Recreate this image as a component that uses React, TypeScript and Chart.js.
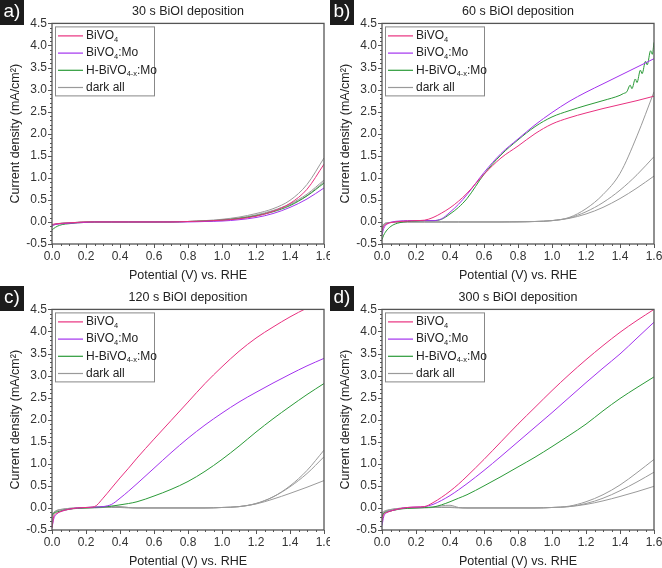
import React, { useEffect, useRef } from "react";
import { Chart, registerables } from "chart.js";
Chart.register(...registerables);

// ---------- data ----------
const POTENTIAL = [0, 0.01, 0.03, 0.06, 0.1, 0.15, 0.2, 0.25, 0.3, 0.35, 0.4, 0.45, 0.5, 0.6, 0.7, 0.8, 0.9, 1.0, 1.1, 1.2, 1.3, 1.4, 1.5, 1.6];
const X_TICKS = [0, 0.2, 0.4, 0.6, 0.8, 1.0, 1.2, 1.4, 1.6];
const Y_TICKS = [-0.5, 0, 0.5, 1.0, 1.5, 2.0, 2.5, 3.0, 3.5, 4.0, 4.5];
const SERIES_LABELS = ["BiVO₄", "BiVO₄:Mo", "H-BiVO₄₋ₓ:Mo", "dark all"];
const PANEL_LABELS = ["a)", "b)", "c)", "d)"];
const PANEL_TITLES = ["30 s BiOI deposition", "60 s BiOI deposition", "120 s BiOI deposition", "300 s BiOI deposition"];

// panel a (30 s)
const A_BIVO4 = [-0.06, -0.05, -0.04, -0.03, -0.02, -0.01, 0, 0, 0, 0, 0, 0, 0, 0, 0, 0.01, 0.02, 0.04, 0.07, 0.13, 0.24, 0.42, 0.74, 1.31];
const A_BIVO4_MO = [-0.1, -0.07, -0.05, -0.04, -0.03, -0.02, -0.01, 0, 0, 0, 0, 0, 0, 0, 0, 0, 0.01, 0.02, 0.05, 0.1, 0.19, 0.33, 0.52, 0.77];
const A_HBIVO4_MO = [-0.18, -0.15, -0.1, -0.06, -0.04, -0.02, -0.01, 0, 0, 0, 0, 0, 0, 0, 0, 0.01, 0.02, 0.04, 0.08, 0.14, 0.23, 0.37, 0.59, 0.88];
const A_DARK_1 = [-0.08, -0.06, -0.04, -0.03, -0.02, -0.01, 0, 0, 0, 0, 0, 0, 0, 0, 0.01, 0.01, 0.03, 0.06, 0.11, 0.19, 0.3, 0.49, 0.85, 1.45];
const A_DARK_2 = [-0.08, -0.06, -0.04, -0.03, -0.02, -0.01, 0, 0, 0, 0, 0, 0, 0, 0, 0, 0.01, 0.02, 0.05, 0.09, 0.16, 0.26, 0.41, 0.63, 0.95];
const A_DARK_3 = [-0.1, -0.07, -0.05, -0.03, -0.02, -0.01, 0, 0, 0, 0, 0, 0, 0, 0, 0, 0.01, 0.02, 0.04, 0.08, 0.14, 0.25, 0.39, 0.6, 0.91];

// panel b (60 s)
const B_BIVO4 = [-0.2, -0.1, -0.04, -0.01, 0.01, 0.02, 0.03, 0.04, 0.1, 0.2, 0.32, 0.47, 0.65, 1.08, 1.45, 1.72, 2.0, 2.22, 2.36, 2.47, 2.57, 2.66, 2.75, 2.85];
const B_BIVO4_MO = [-0.3, -0.15, -0.05, 0, 0.02, 0.03, 0.03, 0.03, 0.03, 0.07, 0.22, 0.4, 0.62, 1.12, 1.55, 1.88, 2.2, 2.48, 2.73, 2.94, 3.13, 3.32, 3.51, 3.7];
const B_HBIVO4_MO_POTENTIAL = [0, 0.01, 0.03, 0.06, 0.1, 0.15, 0.2, 0.25, 0.3, 0.35, 0.4, 0.45, 0.5, 0.6, 0.7, 0.8, 0.9, 1.0, 1.1, 1.2, 1.3, 1.4, 1.42, 1.44, 1.46, 1.47, 1.49, 1.5, 1.52, 1.53, 1.55, 1.56, 1.58, 1.59, 1.6];
const B_HBIVO4_MO = [-0.4, -0.3, -0.18, -0.08, -0.02, 0.01, 0.02, 0.03, 0.03, 0.06, 0.18, 0.33, 0.53, 1.08, 1.52, 1.86, 2.16, 2.38, 2.52, 2.64, 2.75, 2.87, 2.91, 2.95, 3.1, 3.02, 3.24, 3.16, 3.44, 3.36, 3.64, 3.56, 3.88, 3.8, 4.07];
const B_DARK_1 = [-0.2, -0.08, -0.03, -0.01, 0, 0, 0, 0, 0, 0, 0, 0, 0, 0, 0, 0.01, 0.01, 0.03, 0.1, 0.3, 0.62, 1.1, 1.95, 2.95];
const B_DARK_2 = [-0.15, -0.06, -0.02, -0.01, 0, 0, 0, 0, 0, 0, 0, 0, 0, 0, 0, 0, 0.01, 0.03, 0.09, 0.23, 0.44, 0.72, 1.07, 1.48];
const B_DARK_3 = [-0.12, -0.05, -0.02, -0.01, 0, 0, 0, 0, 0, 0, 0, 0, 0, 0, 0, 0, 0.01, 0.03, 0.08, 0.18, 0.33, 0.53, 0.77, 1.04];

// panel c (120 s)
const C_BIVO4 = [-0.45, -0.2, -0.12, -0.07, -0.03, 0, 0.01, 0.03, 0.22, 0.45, 0.68, 0.9, 1.13, 1.56, 1.98, 2.4, 2.82, 3.2, 3.55, 3.85, 4.1, 4.33, 4.53, 4.7];
const C_BIVO4_MO = [-0.45, -0.25, -0.13, -0.07, -0.03, 0, 0.01, 0.02, 0.03, 0.08, 0.22, 0.38, 0.55, 0.9, 1.25, 1.58, 1.88, 2.15, 2.4, 2.62, 2.83, 3.03, 3.22, 3.39];
const C_HBIVO4_MO = [-0.15, -0.12, -0.09, -0.06, -0.03, -0.01, 0, 0.01, 0.02, 0.04, 0.07, 0.1, 0.14, 0.27, 0.42, 0.6, 0.83, 1.1, 1.4, 1.72, 2.02, 2.3, 2.57, 2.82];
const C_DARK_1 = [-0.3, -0.14, -0.07, -0.04, -0.02, 0, 0.01, 0.02, 0.03, 0.04, 0.03, 0.01, 0, 0, 0, 0, 0, 0.01, 0.03, 0.1, 0.25, 0.5, 0.85, 1.31];
const C_DARK_2 = [-0.2, -0.12, -0.06, -0.03, -0.01, 0, 0, 0.01, 0.01, 0.02, 0.02, 0.01, 0, 0, 0, 0, 0, 0.01, 0.03, 0.1, 0.25, 0.48, 0.78, 1.16];
const C_DARK_3 = [-0.15, -0.1, -0.05, -0.03, -0.01, 0, 0, 0, 0.01, 0.01, 0.01, 0, 0, 0, 0, 0, 0, 0.01, 0.03, 0.09, 0.2, 0.33, 0.47, 0.62];

// panel d (300 s)
const D_BIVO4 = [-0.3, -0.15, -0.1, -0.06, -0.02, 0.01, 0.02, 0.03, 0.12, 0.24, 0.38, 0.54, 0.72, 1.1, 1.5, 1.9, 2.28, 2.66, 3.02, 3.36, 3.68, 3.98, 4.25, 4.5];
const D_BIVO4_MO = [-0.4, -0.2, -0.1, -0.06, -0.02, 0.01, 0.02, 0.03, 0.08, 0.17, 0.28, 0.41, 0.55, 0.85, 1.17, 1.5, 1.83, 2.16, 2.5, 2.84, 3.17, 3.49, 3.85, 4.21];
const D_HBIVO4_MO = [-0.2, -0.12, -0.09, -0.06, -0.03, -0.01, 0, 0.01, 0.02, 0.07, 0.14, 0.22, 0.3, 0.5, 0.71, 0.93, 1.15, 1.39, 1.64, 1.9, 2.2, 2.48, 2.73, 2.97];
const D_DARK_1 = [-0.2, -0.12, -0.07, -0.04, -0.02, 0, 0.01, 0.01, 0.02, 0.05, 0.06, 0.01, 0, 0, 0, 0, 0, 0.01, 0.04, 0.14, 0.3, 0.52, 0.8, 1.1];
const D_DARK_2 = [-0.15, -0.1, -0.06, -0.03, -0.01, 0, 0, 0.01, 0.01, 0.02, 0.02, 0.01, 0, 0, 0, 0, 0, 0.01, 0.03, 0.1, 0.22, 0.39, 0.59, 0.81];
const D_DARK_3 = [-0.12, -0.08, -0.05, -0.03, -0.01, 0, 0, 0, 0.01, 0.01, 0.01, 0, 0, 0, 0, 0, 0, 0.01, 0.03, 0.08, 0.16, 0.26, 0.37, 0.49];

// ---------- styles ----------
const COLORS = ["#e8307f", "#a232ee", "#2b9a38", "#9a9a9a"];
const FONT = "'Liberation Sans', Arial, sans-serif";
const TEXT = "#222";
const AXIS = "#555";

type Series = { x: number[]; y: number[]; kind: number };

const PANELS: { series: Series[] }[] = [
  {
    series: [
      { x: POTENTIAL, y: A_BIVO4, kind: 0 },
      { x: POTENTIAL, y: A_BIVO4_MO, kind: 1 },
      { x: POTENTIAL, y: A_HBIVO4_MO, kind: 2 },
      { x: POTENTIAL, y: A_DARK_1, kind: 3 },
      { x: POTENTIAL, y: A_DARK_2, kind: 3 },
      { x: POTENTIAL, y: A_DARK_3, kind: 3 },
    ],
  },
  {
    series: [
      { x: POTENTIAL, y: B_BIVO4, kind: 0 },
      { x: POTENTIAL, y: B_BIVO4_MO, kind: 1 },
      { x: B_HBIVO4_MO_POTENTIAL, y: B_HBIVO4_MO, kind: 2 },
      { x: POTENTIAL, y: B_DARK_1, kind: 3 },
      { x: POTENTIAL, y: B_DARK_2, kind: 3 },
      { x: POTENTIAL, y: B_DARK_3, kind: 3 },
    ],
  },
  {
    series: [
      { x: POTENTIAL, y: C_BIVO4, kind: 0 },
      { x: POTENTIAL, y: C_BIVO4_MO, kind: 1 },
      { x: POTENTIAL, y: C_HBIVO4_MO, kind: 2 },
      { x: POTENTIAL, y: C_DARK_1, kind: 3 },
      { x: POTENTIAL, y: C_DARK_2, kind: 3 },
      { x: POTENTIAL, y: C_DARK_3, kind: 3 },
    ],
  },
  {
    series: [
      { x: POTENTIAL, y: D_BIVO4, kind: 0 },
      { x: POTENTIAL, y: D_BIVO4_MO, kind: 1 },
      { x: POTENTIAL, y: D_HBIVO4_MO, kind: 2 },
      { x: POTENTIAL, y: D_DARK_1, kind: 3 },
      { x: POTENTIAL, y: D_DARK_2, kind: 3 },
      { x: POTENTIAL, y: D_DARK_3, kind: 3 },
    ],
  },
];

const SUB_MAP: Record<string, string> = {
  "₀": "0", "₁": "1", "₂": "2", "₃": "3", "₄": "4", "₅": "5", "₆": "6", "₇": "7", "₈": "8", "₉": "9", "₋": "-", "ₓ": "x",
};

function drawRichText(ctx: CanvasRenderingContext2D, text: string, x: number, y: number, size: number) {
  let cx = x;
  let buf = "";
  let sub = false;
  const flush = () => {
    if (!buf) return;
    ctx.font = `${sub ? size * 0.62 : size}px ${FONT}`;
    ctx.fillText(buf, cx, sub ? y + size * 0.32 : y);
    cx += ctx.measureText(buf).width;
    buf = "";
  };
  for (const ch of text) {
    const isSub = ch in SUB_MAP;
    if (isSub !== sub) {
      flush();
      sub = isSub;
    }
    buf += isSub ? SUB_MAP[ch] : ch;
  }
  flush();
}

const decorPlugin = {
  id: "decor",
  afterDatasetsDraw(chart: any, _args: any, opts: any) {
    const { ctx, chartArea } = chart;
    const xs = chart.scales.x;
    const ys = chart.scales.y;
    const { left, right, top, bottom } = chartArea;
    ctx.save();
    // ticks
    ctx.strokeStyle = AXIS;
    ctx.lineWidth = 1;
    ctx.beginPath();
    for (let i = 0; i <= 32; i++) {
      const v = i * 0.05;
      const px = Math.round(xs.getPixelForValue(v)) + 0.5;
      const len = i % 4 === 0 ? 4 : 2;
      ctx.moveTo(px, bottom);
      ctx.lineTo(px, bottom + len);
    }
    for (let i = 0; i <= 50; i++) {
      const v = -0.5 + i * 0.1;
      const py = Math.round(ys.getPixelForValue(v)) + 0.5;
      const len = i % 5 === 0 ? 4 : 2;
      ctx.moveTo(left, py);
      ctx.lineTo(left - len, py);
    }
    ctx.stroke();
    // frame
    ctx.lineWidth = 1.3;
    ctx.strokeStyle = AXIS;
    ctx.strokeRect(left, top, right - left, bottom - top);

    // legend
    const seen = new Set<string>();
    const items: { label: string; color: string }[] = [];
    chart.data.datasets.forEach((d: any) => {
      if (!seen.has(d.label)) {
        seen.add(d.label);
        items.push({ label: d.label, color: d.borderColor });
      }
    });
    const bx = left + 3;
    const by = top + 3;
    ctx.lineWidth = 1;
    ctx.strokeStyle = "#888";
    ctx.strokeRect(bx + 0.5, by + 0.5, 99, 69);
    items.forEach((it, i) => {
      const cy = by + 9.5 + i * 17.2;
      ctx.strokeStyle = it.color;
      ctx.lineWidth = 1.2;
      ctx.beginPath();
      ctx.moveTo(bx + 3, cy);
      ctx.lineTo(bx + 28, cy);
      ctx.stroke();
      ctx.fillStyle = TEXT;
      ctx.textBaseline = "middle";
      ctx.textAlign = "left";
      drawRichText(ctx, it.label, bx + 31, cy, 12);
    });

    // panel label
    ctx.fillStyle = "#1c1c1c";
    ctx.fillRect(0, -3, 24, 28);
    ctx.fillStyle = "#fff";
    ctx.font = `19px ${FONT}`;
    ctx.textAlign = "center";
    ctx.textBaseline = "middle";
    ctx.fillText(opts.label, 12, 12);
    ctx.restore();
  },
};

function Panel({ index, left, top, width }: { index: number; left: number; top: number; width: number }) {
  const ref = useRef<HTMLCanvasElement | null>(null);
  useEffect(() => {
    const canvas = ref.current;
    if (!canvas) return;
    const panel = PANELS[index];
    const datasets = panel.series.map((s) => ({
      label: SERIES_LABELS[s.kind],
      data: s.x.map((x, i) => ({ x, y: s.y[i] })),
      borderColor: COLORS[s.kind],
      backgroundColor: COLORS[s.kind],
      borderWidth: 1,
      pointRadius: 0,
      cubicInterpolationMode: "monotone" as const,
      fill: false,
    }));
    const chart = new Chart(canvas, {
      type: "line",
      data: { datasets },
      plugins: [decorPlugin],
      options: {
        responsive: false,
        animation: false,
        devicePixelRatio: 1,
        events: [],
        layout: { padding: { left: 0, top: 0, right: width - 324, bottom: 0 } },
        plugins: {
          legend: { display: false },
          tooltip: { enabled: false },
          title: {
            display: true,
            text: PANEL_TITLES[index],
            fullSize: false,
            color: TEXT,
            font: { family: FONT, size: 12.5, weight: "normal" },
            padding: { top: 4, bottom: 4.4 },
          },
          decor: { label: PANEL_LABELS[index] },
        } as any,
        scales: {
          x: {
            type: "linear",
            min: X_TICKS[0],
            max: X_TICKS[X_TICKS.length - 1],
            afterBuildTicks: (s: any) => {
              s.ticks = X_TICKS.map((v) => ({ value: v }));
            },
            afterFit: (s: any) => {
              s.height = 42;
              s.paddingLeft = 0;
              s.paddingRight = 0;
            },
            grid: { display: false, drawTicks: true, tickLength: 4 },
            border: { display: false },
            ticks: {
              autoSkip: false,
              maxRotation: 0,
              padding: 1,
              color: "#333",
              font: { family: FONT, size: 12 },
              callback: (v: any) => Number(v).toFixed(1),
            },
            title: {
              display: true,
              text: "Potential (V) vs. RHE",
              color: TEXT,
              font: { family: FONT, size: 12.5 },
              padding: { top: 0, bottom: 3 },
            },
          },
          y: {
            type: "linear",
            min: Y_TICKS[0],
            max: Y_TICKS[Y_TICKS.length - 1],
            afterBuildTicks: (s: any) => {
              s.ticks = Y_TICKS.map((v) => ({ value: v }));
            },
            afterFit: (s: any) => {
              s.width = 52;
              s.paddingTop = 0;
              s.paddingBottom = 0;
            },
            grid: { display: false, drawTicks: true, tickLength: 4 },
            border: { display: false },
            ticks: {
              autoSkip: false,
              padding: 1,
              color: "#333",
              font: { family: FONT, size: 12 },
              callback: (v: any) => Number(v).toFixed(1),
            },
            title: {
              display: true,
              text: "Current density (mA/cm²)",
              color: TEXT,
              font: { family: FONT, size: 12.5 },
              padding: { top: 8, bottom: 0 },
            },
          },
        },
      },
    });
    return () => chart.destroy();
  }, [index, width]);
  return (
    <div style={{ position: "absolute", left, top, width, height: 286 }}>
      <canvas ref={ref} width={width} height={286} style={{ display: "block", width, height: 286 }} />
    </div>
  );
}

export default function App() {
  return (
    <div style={{ position: "absolute", left: 0, top: 0, width: 662, height: 568, overflow: "hidden", background: "#fff" }}>
      <Panel index={0} left={0} top={0} width={330} />
      <Panel index={1} left={330} top={0} width={332} />
      <Panel index={2} left={0} top={286} width={330} />
      <Panel index={3} left={330} top={286} width={332} />
    </div>
  );
}
